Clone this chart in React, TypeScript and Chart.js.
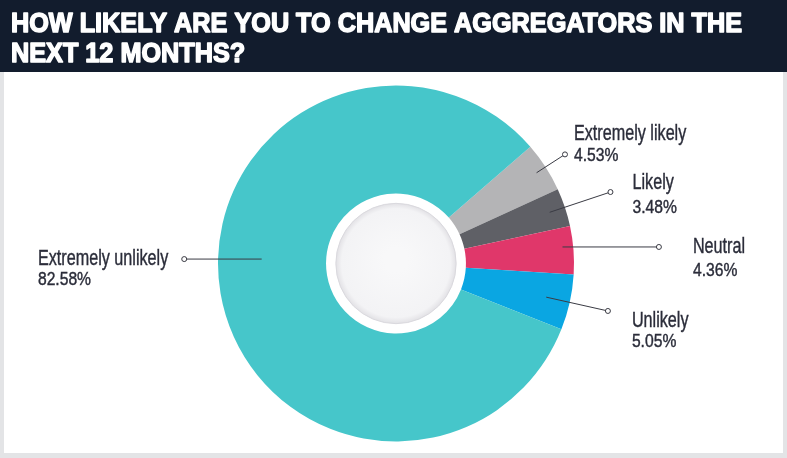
import React, { useEffect, useRef } from "react";
import { Chart, registerables } from "chart.js";

Chart.register(...registerables);

const titleLines = ["HOW LIKELY ARE YOU TO CHANGE AGGREGATORS IN THE", "NEXT 12 MONTHS?"];
const categories = ["Extremely likely", "Likely", "Neutral", "Unlikely", "Extremely unlikely"];
const values = [4.53, 3.48, 4.36, 5.05, 82.58];
const colors = ["#B4B4B6", "#5F6066", "#E0376A", "#0AA6E2", "#46C6CA"];

// leader-line / label layout (relative to each slice)
const labelLayout: any[] = [
  { r0: 0.94, r1: 1.13, dx: 9, dy1: -14, dy2: 7 },
  { r0: 0.91, r1: 1.27, dx: 22, dy1: -3, dy2: 21 },
  { r0: 0.94, r1: 1.48, angle: -3.6, flat: true, dx: 34, dy1: 6, dy2: 29 },
  { r0: 0.865, r1: 1.22, dx: 24, dy1: 16, dy2: 36 },
  { r0: 0.755, r1: 1.19, angle: 181.2, flat: true, dx: -16, dy1: 6, dy2: 26, right: true },
];

const W = 787;
const H = 458;
const TEXT = "#2B2D3A";

const decorPlugin = {
  id: "decor",
  beforeDraw(chart: any) {
    const ctx = chart.ctx as CanvasRenderingContext2D;
    ctx.save();
    ctx.fillStyle = "#E3E4E6";
    ctx.fillRect(0, 0, W, H);
    ctx.fillStyle = "#FFFFFF";
    ctx.fillRect(4, 72, 779, 381);
    ctx.fillStyle = "#121C2D";
    ctx.fillRect(0, 0, W, 72);
    // title
    ctx.font = "bold 27px 'Liberation Sans', Arial, sans-serif";
    ctx.fillStyle = "#FFFFFF";
    ctx.strokeStyle = "#FFFFFF";
    ctx.lineWidth = 1.5;
    ctx.lineJoin = "round";
    ctx.textBaseline = "alphabetic";
    ctx.textAlign = "left";
    const w1 = ctx.measureText(titleLines[0]).width;
    const sx = 731 / w1;
    titleLines.forEach((line, i) => {
      ctx.save();
      ctx.translate(11, 32 + i * 30);
      ctx.scale(sx, 1);
      ctx.fillText(line, 0, 0);
      ctx.strokeText(line, 0, 0);
      ctx.restore();
    });
    ctx.restore();
  },
  afterDraw(chart: any) {
    const ctx = chart.ctx as CanvasRenderingContext2D;
    const meta = chart.getDatasetMeta(0);
    ctx.save();
    // inner disc
    const a0 = meta.data[0].getProps(["x", "y", "innerRadius", "outerRadius"], true);
    const cx = a0.x;
    const cy = a0.y;
    const ir = a0.innerRadius * 0.86;
    const g = ctx.createRadialGradient(cx, cy - 4, ir * 0.2, cx, cy, ir);
    g.addColorStop(0, "#F8F8F9");
    g.addColorStop(0.88, "#F3F3F5");
    g.addColorStop(1, "#E2E1E5");
    ctx.beginPath();
    ctx.arc(cx, cy, ir, 0, Math.PI * 2);
    ctx.fillStyle = g;
    ctx.fill();
    ctx.strokeStyle = "#DAD9DE";
    ctx.lineWidth = 1;
    ctx.stroke();

    meta.data.forEach((arc: any, i: number) => {
      const p = arc.getProps(["x", "y", "startAngle", "endAngle", "outerRadius"], true);
      const L = labelLayout[i];
      const ang = L.angle !== undefined ? (L.angle * Math.PI) / 180 : (p.startAngle + p.endAngle) / 2;
      const R = p.outerRadius;
      const x1 = p.x + Math.cos(ang) * R * L.r1;
      const y1 = p.y + Math.sin(ang) * R * L.r1;
      let x0 = p.x + Math.cos(ang) * R * L.r0;
      let y0 = p.y + Math.sin(ang) * R * L.r0;
      if (L.flat) {
        y0 = y1;
        const rr = R * L.r0;
        const dy = y1 - p.y;
        x0 = p.x + Math.sign(Math.cos(ang)) * Math.sqrt(Math.max(0, rr * rr - dy * dy));
      }
      ctx.beginPath();
      ctx.moveTo(x0, y0);
      ctx.lineTo(x1, y1);
      ctx.strokeStyle = "#3A3B44";
      ctx.lineWidth = 1;
      ctx.stroke();
      ctx.beginPath();
      ctx.arc(x1, y1, 2.5, 0, Math.PI * 2);
      ctx.fillStyle = "#FFFFFF";
      ctx.fill();
      ctx.stroke();

      const name = categories[i];
      const pct = values[i].toFixed(2) + "%";
      const nameFont = "22px 'Liberation Sans', Arial, sans-serif";
      const pctFont = "18px 'Liberation Sans', Arial, sans-serif";
      const nsx = 0.735;
      const psx = 0.87;
      ctx.font = nameFont;
      const nw = ctx.measureText(name).width * nsx;
      const tx = L.right ? x1 + L.dx - nw : x1 + L.dx;
      ctx.fillStyle = TEXT;
      ctx.strokeStyle = TEXT;
      ctx.lineWidth = 0.4;
      ctx.textAlign = "left";
      ctx.textBaseline = "alphabetic";
      ctx.save();
      ctx.translate(tx, y1 + L.dy1);
      ctx.scale(nsx, 1);
      ctx.fillText(name, 0, 0);
      ctx.strokeText(name, 0, 0);
      ctx.restore();
      ctx.font = pctFont;
      ctx.save();
      ctx.translate(tx, y1 + L.dy2);
      ctx.scale(psx, 1);
      ctx.fillText(pct, 0, 0);
      ctx.strokeText(pct, 0, 0);
      ctx.restore();
    });
    ctx.restore();
  },
};

export default function App() {
  const ref = useRef<HTMLCanvasElement | null>(null);
  useEffect(() => {
    if (!ref.current) return;
    const chart = new Chart(ref.current, {
      type: "doughnut",
      data: {
        labels: categories,
        datasets: [
          {
            data: values,
            backgroundColor: colors,
            borderWidth: 0,
            hoverOffset: 0,
          },
        ],
      },
      options: {
        responsive: false,
        animation: false,
        devicePixelRatio: 1,
        rotation: 49,
        cutout: "39.3%",
        layout: { padding: { top: 85.5, bottom: 16.5, left: 5, right: 0 } },
        plugins: { legend: { display: false }, tooltip: { enabled: false } },
        events: [],
      },
      plugins: [decorPlugin],
    });
    return () => chart.destroy();
  }, []);
  return (
    <div style={{ position: "fixed", left: 0, top: 0, width: W, height: H, background: "#fff" }}>
      <canvas ref={ref} width={W} height={H} style={{ width: W, height: H, display: "block" }} />
    </div>
  );
}
